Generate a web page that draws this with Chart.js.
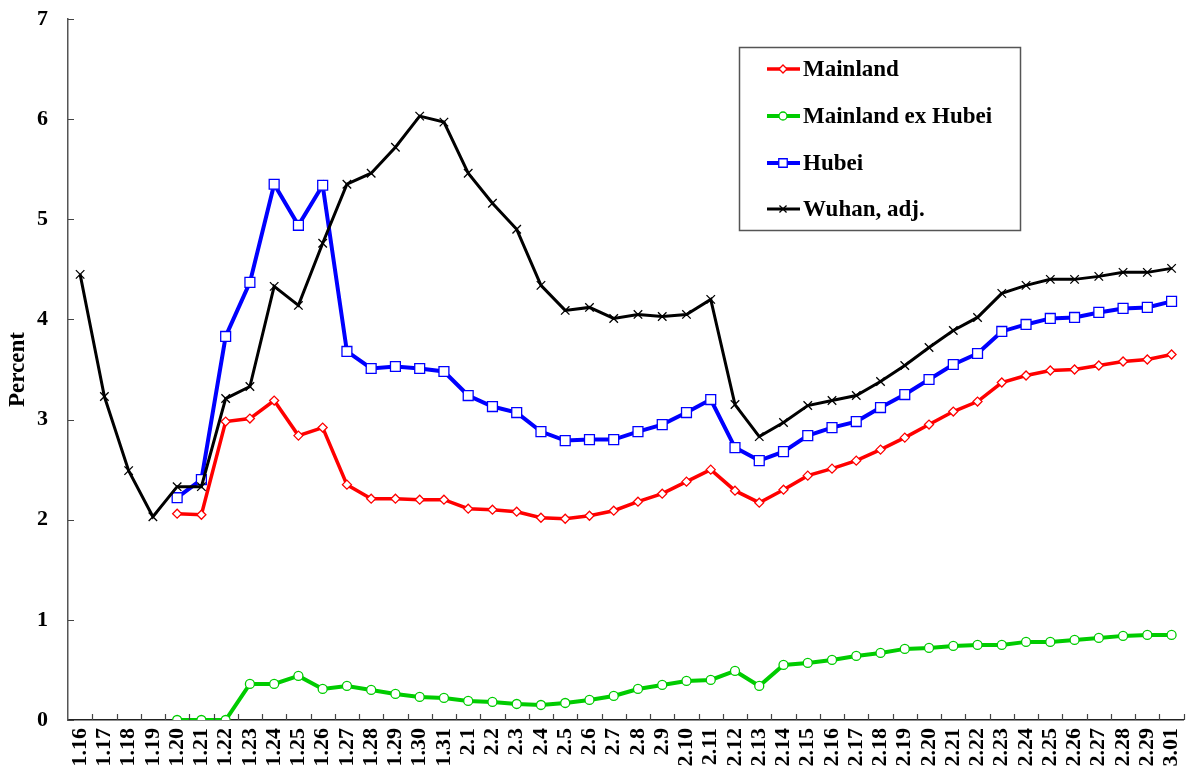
<!DOCTYPE html>
<html>
<head>
<meta charset="utf-8">
<script src="https://cdn.jsdelivr.net/npm/chart.js@4/dist/chart.umd.min.js"></script>
<style>
html,body{margin:0;padding:0;background:#fff;}
#wrap{position:relative;width:1192px;height:778px;}
</style>
</head>
<body>
<div id="wrap"><canvas id="c" width="1192" height="778"></canvas></div>
<script>
const categories = ["1.16","1.17","1.18","1.19","1.20","1.21","1.22","1.23","1.24","1.25","1.26","1.27","1.28","1.29","1.30","1.31",
  "2.1","2.2","2.3","2.4","2.5","2.6","2.7","2.8","2.9","2.10","2.11","2.12","2.13","2.14","2.15","2.16","2.17","2.18","2.19","2.20",
  "2.21","2.22","2.23","2.24","2.25","2.26","2.27","2.28","2.29","3.01"];

const mainland = [null,null,null,null,2.06,2.05,2.98,3.01,3.19,2.84,2.92,2.35,2.21,2.21,2.20,2.20,
  2.11,2.10,2.08,2.02,2.01,2.04,2.09,2.18,2.26,2.38,2.50,2.29,2.17,2.30,2.44,2.51,2.59,2.70,2.82,2.95,
  3.08,3.18,3.37,3.44,3.49,3.50,3.54,3.58,3.60,3.65];

const mainlandExHubei = [null,null,null,null,0.00,0.00,0.00,0.36,0.36,0.44,0.31,0.34,0.30,0.26,0.23,0.22,
  0.19,0.18,0.16,0.15,0.17,0.20,0.24,0.31,0.35,0.39,0.40,0.49,0.34,0.55,0.57,0.60,0.64,0.67,0.71,0.72,
  0.74,0.75,0.75,0.78,0.78,0.80,0.82,0.84,0.85,0.85];

const hubei = [null,null,null,null,2.22,2.40,3.83,4.37,5.35,4.94,5.34,3.68,3.51,3.53,3.51,3.48,
  3.24,3.13,3.07,2.88,2.79,2.80,2.80,2.88,2.95,3.07,3.20,2.72,2.59,2.68,2.84,2.92,2.98,3.12,3.25,3.40,
  3.55,3.66,3.88,3.95,4.01,4.02,4.07,4.11,4.12,4.18];

const wuhanAdj = [4.45,3.23,2.49,2.03,2.33,2.33,3.21,3.33,4.33,4.14,4.76,5.35,5.46,5.72,6.03,5.97,
  5.46,5.16,4.90,4.34,4.09,4.12,4.01,4.05,4.03,4.05,4.20,3.15,2.83,2.97,3.14,3.19,3.24,3.38,3.54,3.72,
  3.89,4.02,4.26,4.34,4.40,4.40,4.43,4.47,4.47,4.51];

const yTicks = [0,1,2,3,4,5,6,7];
const seriesNames = ["Mainland","Mainland ex Hubei","Hubei","Wuhan, adj."];

const SERIF = '"Liberation Serif","Times New Roman",serif';

const datasets = [
  {label: seriesNames[0], data: mainland, borderColor:'#ff0000', backgroundColor:'#ffffff', borderWidth:3.5,
   pointStyle:'rectRot', pointRadius:4.5, pointBorderWidth:1.3, pointBorderColor:'#ff0000', pointBackgroundColor:'#ffffff', order:2},
  {label: seriesNames[1], data: mainlandExHubei, borderColor:'#00cc00', backgroundColor:'#ffffff', borderWidth:4,
   pointStyle:'circle', pointRadius:4.5, pointBorderWidth:1.3, pointBorderColor:'#00cc00', pointBackgroundColor:'#ffffff', order:3},
  {label: seriesNames[2], data: hubei, borderColor:'#0000ff', backgroundColor:'#ffffff', borderWidth:4,
   pointStyle:'rect', pointRadius:7, pointBorderWidth:1.3, pointBorderColor:'#0000ff', pointBackgroundColor:'#ffffff', order:4},
  {label: seriesNames[3], data: wuhanAdj, borderColor:'#000000', backgroundColor:'#000000', borderWidth:3,
   pointStyle:'crossRot', pointRadius:6, pointBorderWidth:1.3, pointBorderColor:'#000000', pointBackgroundColor:'#000000', order:1}
];

const tickPlugin = {
  id:'insideTicks',
  afterDraw(chart){
    const ctx = chart.ctx, x = chart.scales.x, y = chart.scales.y;
    ctx.save();
    ctx.strokeStyle = '#444';
    ctx.lineWidth = 1.2;
    const n = categories.length;
    const w = (x.right - x.left)/n;
    ctx.beginPath();
    for (let i=1;i<=n;i++){
      const px = Math.round(x.left + i*w)+0.5;
      ctx.moveTo(px, x.top); ctx.lineTo(px, x.top-6);
    }
    for (const v of yTicks){
      const py = Math.round(y.getPixelForValue(v))+0.5;
      ctx.moveTo(y.right, py); ctx.lineTo(y.right+6, py);
    }
    ctx.stroke();
    ctx.restore();
  }
};

const legendPlugin = {
  id:'boxLegend',
  afterDraw(chart){
    const ctx = chart.ctx;
    ctx.save();
    ctx.strokeStyle = '#555';
    ctx.lineWidth = 1.5;
    ctx.strokeRect(739.5, 47.5, 281, 183);
    const rows = [69,116,163,209];
    chart.data.datasets.forEach((ds,i)=>{
      const yy = rows[i];
      ctx.strokeStyle = ds.borderColor;
      ctx.lineWidth = ds.borderWidth;
      ctx.beginPath(); ctx.moveTo(767,yy); ctx.lineTo(800,yy); ctx.stroke();
      ctx.fillStyle = ds.pointBackgroundColor;
      ctx.strokeStyle = ds.pointBorderColor;
      ctx.lineWidth = ds.pointBorderWidth;
      Chart.helpers.drawPoint(ctx, {pointStyle: ds.pointStyle, radius: ds.pointStyle==='rect'?6:(ds.pointStyle==='crossRot'?5:4), rotation:0, borderWidth: ds.pointBorderWidth}, 783, yy);
      ctx.fillStyle = '#000';
      ctx.font = 'bold 23px ' + SERIF;
      ctx.textBaseline = 'middle';
      ctx.textAlign = 'left';
      ctx.fillText(ds.label, 803, yy+1);
    });
    ctx.restore();
  }
};

new Chart(document.getElementById('c'), {
  type:'line',
  data:{labels:categories, datasets},
  options:{
    responsive:false,
    animation:false,
    devicePixelRatio:1,
    layout:{padding:{top:19, right:2, left:0, bottom:0}},
    plugins:{legend:{display:false}, tooltip:{enabled:false}, title:{display:false}},
    elements:{line:{tension:0}},
    scales:{
      x:{
        type:'category', offset:true,
        grid:{display:false, drawTicks:false},
        border:{display:true, color:'#222', width:1.5},
        ticks:{color:'#000', font:{family:SERIF, weight:'bold', size:22}, minRotation:90, maxRotation:90, autoSkip:false, padding:8},
        afterFit(s){ s.height = 58; s.paddingLeft = 0; s.paddingRight = 0; }
      },
      y:{
        min:0, max:7,
        grid:{display:false, drawTicks:false},
        border:{display:true, color:'#555', width:1.5},
        ticks:{stepSize:1, color:'#000', font:{family:SERIF, weight:'bold', size:22}, padding:20},
        title:{display:true, text:'Percent', color:'#000', font:{family:SERIF, weight:'bold', size:23}, padding:{top:4,bottom:0}},
        afterFit(s){ s.width = 68; s.paddingTop = 0; s.paddingBottom = 0; }
      }
    }
  },
  plugins:[tickPlugin, legendPlugin]
});
</script>
</body>
</html>
